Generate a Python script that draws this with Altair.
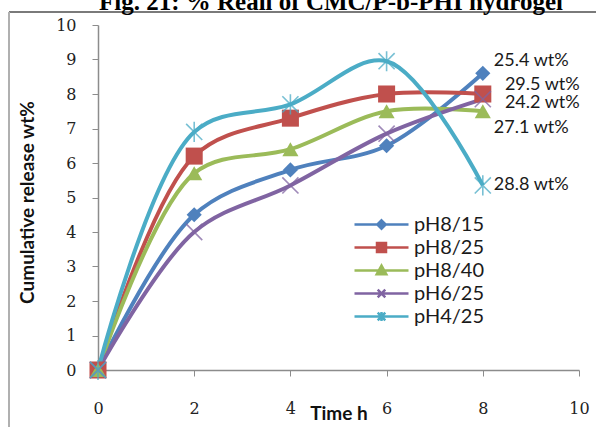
import altair as alt
import pandas as pd

# ---- data ----
times = [0, 2, 4, 6, 8]
series_names = ["pH8/15", "pH8/25", "pH8/40", "pH6/25", "pH4/25"]
v_ph8_15 = [0, 4.5, 5.8, 6.5, 8.6]
v_ph8_25 = [0, 6.2, 7.3, 8.0, 8.0]
v_ph8_40 = [0, 5.7, 6.4, 7.5, 7.5]
v_ph6_25 = [0, 4.0, 5.35, 6.85, 7.85]
v_ph4_25 = [0, 6.9, 7.7, 8.95, 5.35]
series_values = [v_ph8_15, v_ph8_25, v_ph8_40, v_ph6_25, v_ph4_25]
colors = ["#4F81BD", "#C0504D", "#9BBB59", "#8064A2", "#4BACC6"]

ann_text = ["25.4 wt%", "29.5 wt%", "24.2 wt%", "27.1 wt%", "28.8 wt%"]
ann_x = [8.23, 8.46, 8.46, 8.23, 8.23]
ann_y = [8.96, 8.26, 7.74, 7.01, 5.36]

x_ticks = [0, 2, 4, 6, 8, 10]
y_ticks = [0, 1, 2, 3, 4, 5, 6, 7, 8, 9, 10]

title_text = "Fig. 21: % Reall of CMC/P-b-PHI hydrogel"

rows = []
for name, vals in zip(series_names, series_values):
    for t, v in zip(times, vals):
        rows.append({"series": name, "time": t, "value": v})
df = pd.DataFrame(rows)
ann_df = pd.DataFrame({"label": ann_text, "time": ann_x, "value": ann_y})

# ---- encodings ----
W, H = 481, 345
xs = alt.Scale(domain=[0, 10], nice=False, zero=False)
ys = alt.Scale(domain=[0, 10], nice=False)
cs = alt.Scale(domain=series_names, range=colors)

legend_paths = [
    "M-2.7,0H2.7M0,-0.42L0.42,0L0,0.42L-0.42,0Z",
    "M-2.7,0H2.7M-0.45,-0.45H0.45V0.45H-0.45Z",
    "M-2.7,0H2.7M0,-0.5L0.48,0.38H-0.48Z",
    "M-2.7,0H2.7M-0.38,-0.38L0.38,0.38M-0.38,0.38L0.38,-0.38",
    "M-2.7,0H2.7M-0.38,-0.38L0.38,0.38M-0.38,0.38L0.38,-0.38M0,-0.45V0.45",
]

x_axis = alt.Axis(
    values=x_ticks, title="Time h", grid=False,
    labelFont="DejaVu Serif", labelFontSize=16, labelColor="#222222",
    labelPadding=24, labelFlush=False, labelOverlap=False,
    tickSize=6, tickColor="#8c8c8c", domainColor="#8c8c8c", domainWidth=1.5,
    titleFont="Lato", titleFontSize=19, titleFontWeight="bold", titleColor="#111111",
    titleY=49, titleBaseline="alphabetic",
)
y_axis = alt.Axis(
    values=y_ticks, title="Cumulative release wt%", grid=False,
    labelFont="DejaVu Serif", labelFontSize=16, labelColor="#222222",
    labelPadding=16, labelFlush=False, labelOverlap=False,
    tickSize=6, tickColor="#8c8c8c", domainColor="#8c8c8c", domainWidth=1.5,
    titleFont="Lato", titleFontSize=19, titleFontWeight="bold", titleColor="#111111",
    titleX=-71, titleY=177, titleBaseline="middle", titleAngle=-90,
)
x_enc = alt.X("time:Q", scale=xs, axis=x_axis)
y_enc = alt.Y("value:Q", scale=ys, axis=y_axis)

leg = alt.Legend(
    title=None, orient="none", legendX=272, legendY=188, padding=0,
    symbolSize=400, symbolStrokeWidth=2.5, labelOffset=21, rowPadding=1,
    labelFont="Lato", labelFontSize=20, labelColor="#1a1a1a", symbolOpacity=1,
)
color_enc = alt.Color("series:N", scale=cs, legend=leg)

base = alt.Chart(df)

lines = base.mark_line(interpolate="catmull-rom", strokeWidth=4).encode(
    x=x_enc, y=y_enc, color=color_enc,
    detail="series:N", order="time:Q",
)

filled_shapes = {"pH8/15": ("diamond", 230), "pH8/25": ("square", 290), "pH8/40": ("triangle-up", 260)}
marker_layers = []
for name, (shp, sz) in filled_shapes.items():
    marker_layers.append(
        base.transform_filter(alt.datum.series == name)
        .mark_point(shape=shp, filled=True, size=sz, opacity=1)
        .encode(x=x_enc, y=y_enc, color=color_enc)
    )
marker_layers.append(
    base.transform_filter(alt.datum.series == "pH6/25")
    .mark_point(shape="M-1,-1L1,1M-1,1L1,-1", filled=False, size=260, strokeWidth=1.6, opacity=0.75)
    .encode(x=x_enc, y=y_enc, color=color_enc)
)
marker_layers.append(
    base.transform_filter(alt.datum.series == "pH4/25")
    .mark_point(shape="M-1,-1L1,1M-1,1L1,-1M0,-1.25V1.25", filled=False, size=260, strokeWidth=1.6, opacity=0.75)
    .encode(x=x_enc, y=y_enc, color=color_enc)
)

legend_layer = base.mark_point(filled=True, size=0).encode(
    x=x_enc, y=y_enc,
    color=color_enc,
    shape=alt.Shape("series:N", scale=alt.Scale(domain=series_names, range=legend_paths), legend=leg),
)

ann = alt.Chart(ann_df).mark_text(
    align="left", baseline="middle", font="Lato", fontSize=18, color="#1a1a1a"
).encode(x=x_enc, y=y_enc, text="label:N")

title = alt.Chart(pd.DataFrame({"t": [title_text]})).mark_text(
    align="center", baseline="alphabetic", font="Liberation Serif", fontSize=25,
    fontWeight="bold", color="#000000"
).encode(x=alt.value(233), y=alt.value(-15), text="t:N")

frame_top = alt.Chart(pd.DataFrame({"a": [0]})).mark_rule(color="#7a7a7a", strokeWidth=2).encode(
    x=alt.value(-89), x2=alt.value(499), y=alt.value(-13)
)
frame_left = alt.Chart(pd.DataFrame({"a": [0]})).mark_rule(color="#b0b0b0", strokeWidth=2).encode(
    x=alt.value(-89), y=alt.value(-13), y2=alt.value(403)
)

chart = alt.layer(
    frame_top, frame_left, title, lines, *marker_layers, legend_layer, ann
).properties(
    width=W, height=H,
    autosize=alt.AutoSizeParams(type="none"),
    padding={"left": 98, "top": 25, "right": 17, "bottom": 57},
    background="white",
).configure_view(stroke=None)

chart.save("out.html", embed_options={"renderer": "svg", "actions": False})
